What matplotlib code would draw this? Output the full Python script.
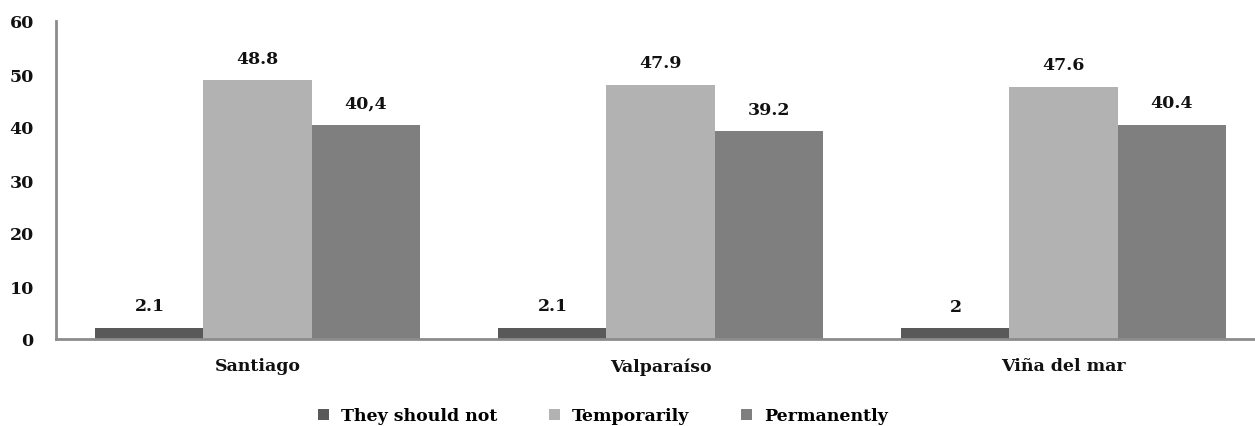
import numpy as np
import matplotlib
matplotlib.use('Agg')
import matplotlib.pyplot as plt

cities = ['Santiago', 'Valparaíso', 'Viña del mar']
series = ['They should not', 'Temporarily', 'Permanently']
should_not = [2.1, 2.1, 2.0]
temporarily = [48.8, 47.9, 47.6]
permanently = [40.4, 39.2, 40.4]
labels_should_not = ['2.1', '2.1', '2']
labels_temporarily = ['48.8', '47.9', '47.6']
labels_permanently = ['40,4', '39.2', '40.4']

colors = ['#595959', '#b2b2b2', '#7f7f7f']
# the reference text is a wide, heavy serif; DejaVu Serif Bold gets the widths right
plt.rcParams['font.family'] = 'DejaVu Serif'
plt.rcParams['font.weight'] = 'bold'
txt_color = '#111111'
fs = 12.5

fig = plt.figure(figsize=(12.55, 4.27), dpi=100)
# axes spans a bit past the right edge of the image, as in the reference
ax = fig.add_axes([56 / 1255, 87 / 427, 1209 / 1255, 318 / 427])

x = np.arange(len(cities))
w = 0.268
values = [should_not, temporarily, permanently]
texts = [labels_should_not, labels_temporarily, labels_permanently]
for i, (vals, labs) in enumerate(zip(values, texts)):
    pos = x + (i - 1) * w
    ax.bar(pos, vals, width=w, color=colors[i], label=series[i])
    for px, v, t in zip(pos, vals, labs):
        ax.annotate(t, (px, v), xytext=(0, 16), textcoords='offset points',
                    ha='center', va='center', fontsize=fs, fontweight='bold',
                    color=txt_color)

ax.set_xlim(-0.5, 2.5)
ax.set_ylim(0, 60)
ax.set_yticks(range(0, 61, 10))
ax.set_xticks(x)
ax.set_xticklabels(cities, fontsize=fs, fontweight='bold', color=txt_color)
ax.tick_params(axis='y', length=0, pad=16, labelsize=fs, labelcolor=txt_color)
ax.tick_params(axis='x', length=0, pad=13)
for s in ['top', 'right']:
    ax.spines[s].set_visible(False)
for s in ['left', 'bottom']:
    ax.spines[s].set_color('#8c8c8c')
    ax.spines[s].set_linewidth(2)

fig.legend(loc='center', bbox_to_anchor=(603 / 1255, 10 / 427), ncol=3,
           frameon=False, fontsize=fs, handlelength=0.6, handleheight=0.6,
           handletextpad=0.7, columnspacing=3.0)

fig.savefig('out.png', dpi=100)
